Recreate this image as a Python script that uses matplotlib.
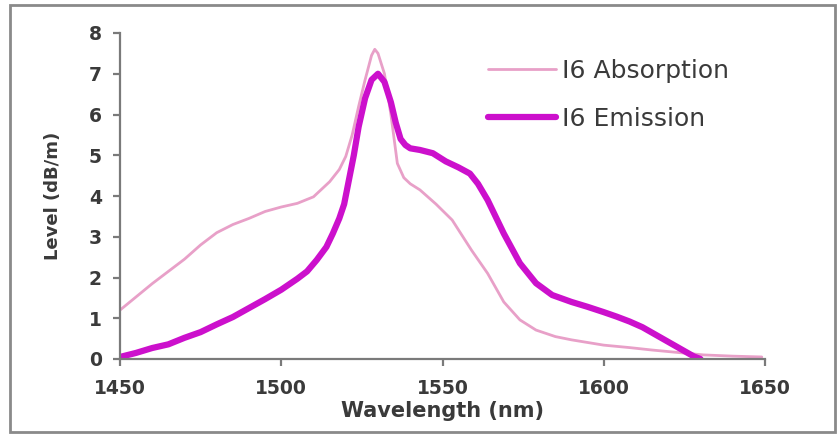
import matplotlib.pyplot as plt
from matplotlib.patches import Rectangle

# wavelength (nm) and level (dB/m)
abs_wl = [1450, 1460, 1470, 1475, 1480, 1485, 1490, 1495, 1500, 1505, 1510,
          1515, 1518, 1520, 1522, 1524, 1526, 1528, 1529, 1530, 1532, 1534,
          1536, 1538, 1540, 1543, 1548, 1553, 1559, 1564, 1569, 1574, 1579,
          1585, 1590, 1600, 1608, 1615, 1623, 1631, 1640, 1649]
abs_lv = [1.2, 1.85, 2.45, 2.8, 3.1, 3.3, 3.45, 3.62, 3.73, 3.82, 3.98,
          4.35, 4.65, 4.97, 5.5, 6.2, 6.85, 7.45, 7.6, 7.5, 7.0, 6.0,
          4.8, 4.45, 4.3, 4.15, 3.8, 3.41, 2.67, 2.1, 1.4, 0.96, 0.71,
          0.55, 0.47, 0.34, 0.28, 0.22, 0.16, 0.1, 0.07, 0.05]

emi_wl = [1450, 1455, 1460, 1465, 1470, 1475, 1480, 1485, 1490, 1495, 1500,
          1505, 1508, 1511, 1514, 1516, 1518, 1519.5, 1521, 1522.5, 1524,
          1526, 1528, 1530, 1532, 1534, 1535.5, 1537, 1538.5, 1540, 1543,
          1547, 1551, 1555, 1558.5, 1561, 1564, 1569, 1574, 1579, 1584,
          1590, 1595, 1600, 1604, 1608, 1612, 1616, 1620, 1624, 1628, 1630]
emi_lv = [0.05, 0.15, 0.27, 0.36, 0.52, 0.66, 0.85, 1.03, 1.25, 1.47, 1.7,
          1.97, 2.15, 2.43, 2.75, 3.08, 3.45, 3.8, 4.4, 5.0, 5.7,
          6.4, 6.85, 7.0, 6.8, 6.3, 5.8, 5.4, 5.25, 5.17, 5.13,
          5.05, 4.85, 4.7, 4.55, 4.3, 3.9, 3.08, 2.35, 1.86, 1.57,
          1.4, 1.28, 1.15, 1.04, 0.92, 0.78, 0.6, 0.42, 0.24, 0.06, 0.0]

x_ticks = [1450, 1500, 1550, 1600, 1650]
y_ticks = [0, 1, 2, 3, 4, 5, 6, 7, 8]

plt.rcParams['font.family'] = ['DejaVu Sans']
txt = '#3a3a3a'
grey = '#7a7a7a'

fig = plt.figure(figsize=(8.38, 4.37), dpi=100)
ax = fig.add_axes([120 / 838, 1 - 359 / 437, 645 / 838, 326 / 437])

ax.plot(abs_wl, abs_lv, color='#E8A0C8', lw=2.0, label='I6 Absorption',
        solid_capstyle='round')
ax.plot(emi_wl, emi_lv, color='#CC10CC', lw=4.5, label='I6 Emission',
        solid_capstyle='round')

ax.set_xlim(1450, 1650)
ax.set_ylim(0, 8)
ax.set_xticks(x_ticks)
ax.set_yticks(y_ticks)
for side in ['top', 'right']:
    ax.spines[side].set_visible(False)
for side in ['left', 'bottom']:
    ax.spines[side].set_color(grey)
    ax.spines[side].set_linewidth(1.6)
ax.tick_params(direction='out', length=5, width=1.6, color=grey,
               labelsize=13.5, labelcolor=txt)
ax.tick_params(axis='x', pad=9.5)
ax.tick_params(axis='y', pad=8)
for lab in ax.get_xticklabels() + ax.get_yticklabels():
    lab.set_fontweight('bold')

ax.set_xlabel('Wavelength (nm)', fontsize=15, fontweight='bold',
              color=txt, labelpad=2)
ax.set_ylabel('Level (dB/m)', fontsize=13, fontweight='bold',
              color=txt, labelpad=19)

ax.legend(loc='upper left', bbox_to_anchor=(488 / 838, 1 - 59 / 437),
          bbox_transform=fig.transFigure, frameon=False, borderpad=0,
          borderaxespad=0, fontsize=18, handlelength=2.7,
          handletextpad=0.28, labelspacing=0.96, labelcolor=txt)

# grey frame round the whole chart
fig.patches.append(Rectangle((10 / 838, 5 / 437), 825 / 838, 427 / 437,
                             transform=fig.transFigure, fill=False,
                             edgecolor='#8a8a8a', lw=2))

fig.savefig('out.png', dpi=100)
